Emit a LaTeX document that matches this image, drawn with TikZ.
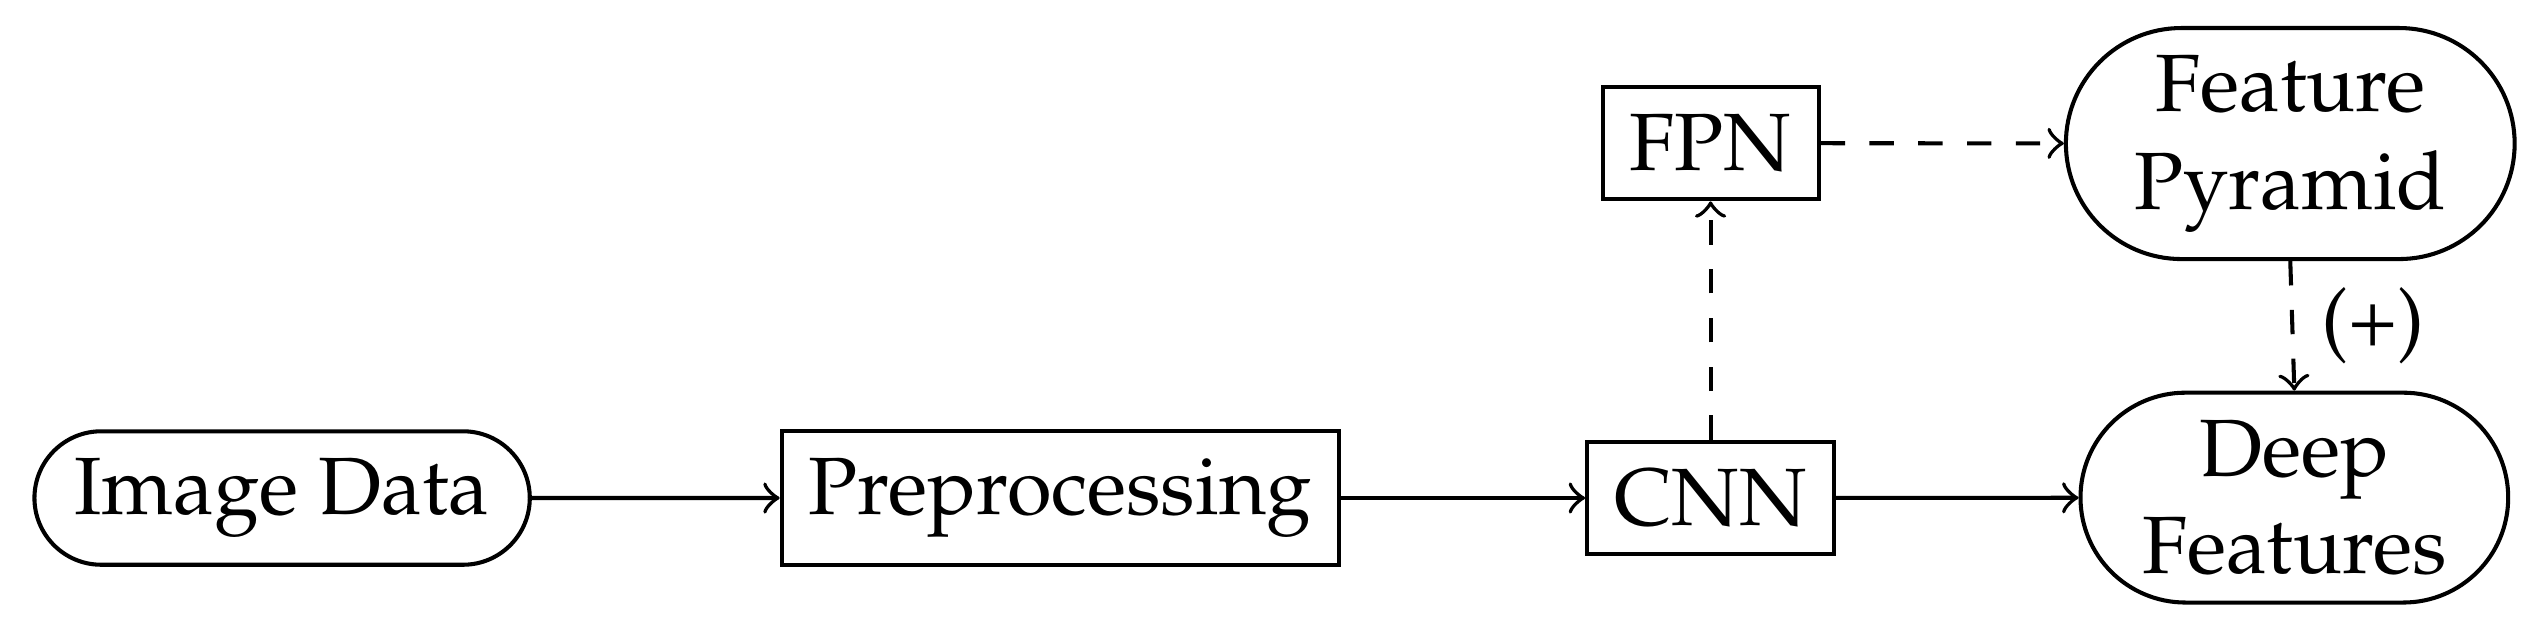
\documentclass[tikz,border=0pt]{standalone}
\usepackage[T1]{fontenc}
\usepackage{mathpazo}
\usetikzlibrary{shapes.misc}
\tikzset{
  every path/.style={line width=0.5pt},
  box/.style={draw, rectangle, line width=0.5pt},
  pill/.style={draw, rounded rectangle, align=center, line width=0.5pt},
  flow/.style={->},
  dflow/.style={->, dashed}
}
\begin{document}
\begin{tikzpicture}
\useasboundingbox (0,0) rectangle (313.4pt,-78.85pt);
\node[pill] (img) at (34.7pt,-61.25pt) {Image Data};
\node[box] (pre) at (130.4pt,-61.25pt) {Preprocessing};
\node[box] (cnn) at (210.4pt,-61.25pt) {CNN};
\node[pill] (deep) at (282.2pt,-61.2pt) {Deep\\Features};
\node[box] (fpn) at (210.4pt,-17.6pt) {FPN};
\node[pill] (pyr) at (281.7pt,-17.65pt) {Feature\\Pyramid};
\draw[flow] (img) -- (pre);
\draw[flow] (pre) -- (cnn);
\draw[flow] (cnn) -- (deep);
\draw[dflow] (cnn) -- (fpn);
\draw[dflow] (fpn) -- (pyr);
\draw[dflow] (pyr.south) -- node[right] {(+)} (deep.north);
\end{tikzpicture}
\end{document}
